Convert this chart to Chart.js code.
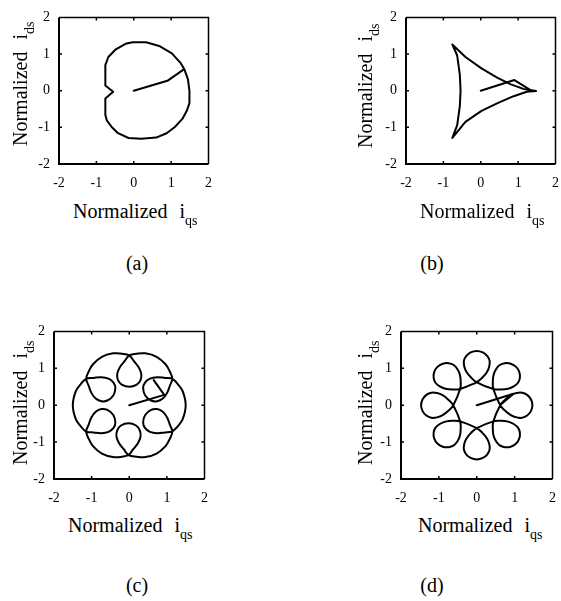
<!DOCTYPE html>
<html>
<head>
<meta charset="utf-8">
<script src="https://cdn.jsdelivr.net/npm/chart.js@4/dist/chart.umd.min.js"></script>
<style>
  html, body { margin: 0; padding: 0; background: #fff; }
  body { width: 561px; height: 601px; position: relative; overflow: hidden;
         font-family: "Liberation Serif", "Times New Roman", Times, "DejaVu Serif", serif; color: #000; }
  .box { position: absolute; }
  .box canvas { display: block; }
  .t { position: absolute; font-size: 20px; line-height: 20px; white-space: nowrap; }
  .v { transform-origin: 0 0; transform: rotate(-90deg); }
  .sub { font-size: 14px; position: relative; top: 7px; }
  .ii { margin-left: 12px; }
  .cap { width: 60px; text-align: center; }
</style>
</head>
<body>

<div class="box" id="boxA"><canvas id="chartA"></canvas></div>
<div class="box" id="boxB"><canvas id="chartB"></canvas></div>
<div class="box" id="boxC"><canvas id="chartC"></canvas></div>
<div class="box" id="boxD"><canvas id="chartD"></canvas></div>

<!-- axis titles -->
<div class="t v" style="left:10px; top:146px;">Normalized<span class="ii">i</span><span class="sub">ds</span></div>
<div class="t v" style="left:355px; top:148px;">Normalized<span class="ii">i</span><span class="sub">ds</span></div>
<div class="t v" style="left:10px; top:465px;">Normalized<span class="ii">i</span><span class="sub">ds</span></div>
<div class="t v" style="left:355px; top:465px;">Normalized<span class="ii">i</span><span class="sub">ds</span></div>

<div class="t" style="left:73px; top:201px;">Normalized<span class="ii">i</span><span class="sub">qs</span></div>
<div class="t" style="left:420px; top:201px;">Normalized<span class="ii">i</span><span class="sub">qs</span></div>
<div class="t" style="left:68px; top:515px;">Normalized<span class="ii">i</span><span class="sub">qs</span></div>
<div class="t" style="left:418px; top:515px;">Normalized<span class="ii">i</span><span class="sub">qs</span></div>

<!-- panel captions -->
<div class="t cap" style="left:107px; top:253px;">(a)</div>
<div class="t cap" style="left:402px; top:253px;">(b)</div>
<div class="t cap" style="left:107px; top:575px;">(c)</div>
<div class="t cap" style="left:402px; top:575px;">(d)</div>

<script>
// Axis ticks shared by all four panels
const tickValues = [-2, -1, 0, 1, 2];
const tickLabels = ['-2', '-1', '0', '1', '2'];
const innerTicks = [-1, 0, 1];

// (a) current locus and start-up transient (iqs, ids)
const traceA = [
  [-0.76, 0.14], [-0.76, 0.45], [-0.76, 0.70], [-0.68, 0.92], [-0.48, 1.13],
  [-0.22, 1.28], [-0.03, 1.32], [0.33, 1.32], [0.68, 1.22], [1.02, 1.02],
  [1.25, 0.76], [1.36, 0.57], [1.45, 0.31], [1.49, 0.00], [1.49, -0.34],
  [1.42, -0.55], [1.30, -0.77], [1.10, -0.99], [0.88, -1.16], [0.60, -1.28],
  [0.20, -1.31], [-0.14, -1.29], [-0.42, -1.16], [-0.59, -0.99], [-0.72, -0.81],
  [-0.76, -0.66], [-0.76, -0.21], [-0.55, -0.03], [-0.76, 0.14]
];
const spokeA = [[0, 0], [0.90, 0.27], [1.34, 0.58]];

// (b) three-cusped locus
const traceB = [
  [1.36, 0.01], [1.14, 0.05], [0.79, 0.18], [0.45, 0.35], [0.02, 0.61],
  [-0.41, 0.92], [-0.76, 1.26], [-0.63, 0.96], [-0.56, 0.44], [-0.54, 0.01],
  [-0.56, -0.42], [-0.63, -0.94], [-0.76, -1.29], [-0.41, -0.85], [0.02, -0.55],
  [0.45, -0.34], [0.88, -0.15], [1.23, -0.03], [1.48, -0.01], [1.36, 0.01]
];
const spokeB = [[0, 0], [0.90, 0.29], [1.31, 0.03]];

// (c) six inner loops
const traceC = [
  [1.145, -0.715], [1.288, -0.573], [1.420, -0.380], [1.500, 0.000], [1.420, 0.380], [1.288, 0.573], [1.145, 0.715],
  [0.954, 0.738], [0.741, 0.758], [0.551, 0.722], [0.418, 0.614], [0.369, 0.467], [0.424, 0.265],
  [0.581, 0.127], [0.736, 0.106], [0.891, 0.179], [1.006, 0.334], [1.081, 0.534], [1.145, 0.715],
  [1.080, 0.906], [0.964, 1.109], [0.727, 1.312], [0.430, 1.406], [0.196, 1.396], [0.000, 1.350],
  [-0.12, 1.20], [-0.25, 1.03], [-0.32, 0.85], [-0.30, 0.68], [-0.20, 0.56], [0.00, 0.50],
  [0.20, 0.56], [0.30, 0.68], [0.32, 0.85], [0.25, 1.03], [0.12, 1.20], [0.00, 1.35],
  [-0.196, 1.396], [-0.430, 1.406], [-0.727, 1.312], [-0.964, 1.109], [-1.080, 0.906], [-1.145, 0.715],
  [-1.081, 0.534], [-1.006, 0.334], [-0.891, 0.179], [-0.736, 0.106], [-0.581, 0.127], [-0.424, 0.265],
  [-0.369, 0.467], [-0.418, 0.614], [-0.551, 0.722], [-0.741, 0.758], [-0.954, 0.738], [-1.145, 0.715],
  [-1.288, 0.573], [-1.420, 0.380], [-1.500, 0.000], [-1.420, -0.380], [-1.288, -0.573], [-1.145, -0.715],
  [-0.954, -0.738], [-0.741, -0.758], [-0.551, -0.722], [-0.418, -0.614], [-0.369, -0.467], [-0.424, -0.265],
  [-0.581, -0.127], [-0.736, -0.106], [-0.891, -0.179], [-1.006, -0.334], [-1.081, -0.534], [-1.145, -0.715],
  [-1.080, -0.906], [-0.964, -1.109], [-0.727, -1.312], [-0.430, -1.406], [-0.196, -1.396], [-0.020, -1.350],
  [0.10, -1.20], [0.23, -1.03], [0.30, -0.85], [0.28, -0.68], [0.18, -0.55], [-0.02, -0.49],
  [-0.22, -0.55], [-0.32, -0.68], [-0.34, -0.85], [-0.27, -1.03], [-0.14, -1.20], [-0.020, -1.35],
  [0.196, -1.396], [0.430, -1.406], [0.727, -1.312], [0.964, -1.109], [1.080, -0.906], [1.145, -0.715],
  [1.081, -0.534], [1.006, -0.334], [0.891, -0.179], [0.736, -0.106], [0.581, -0.127], [0.424, -0.265],
  [0.369, -0.467], [0.418, -0.614], [0.551, -0.722], [0.741, -0.758], [0.954, -0.738], [1.145, -0.715]
];
const spokeC = [[0, 0], [0.93, 0.28], [0.65, 0.68]];

// (d) eight outer petals
const traceD = [
  [0.00, 0.62], [0.15, 0.75], [0.27, 0.90], [0.33, 1.05], [0.34, 1.20], [0.28, 1.33], [0.16, 1.43], [0.00, 1.47],
  [-0.16, 1.43], [-0.28, 1.33], [-0.34, 1.20], [-0.33, 1.05], [-0.27, 0.90], [-0.15, 0.75], [0.00, 0.62],
  [0.438, 0.438], [0.636, 0.424], [0.827, 0.445], [0.976, 0.509], [1.089, 0.608], [1.138, 0.742], [1.124, 0.898], [1.039, 1.039],
  [0.898, 1.124], [0.742, 1.138], [0.608, 1.089], [0.509, 0.976], [0.445, 0.827], [0.424, 0.636], [0.438, 0.438],
  [0.62, 0.00], [0.75, -0.15], [0.90, -0.27], [1.05, -0.33], [1.20, -0.34], [1.33, -0.28], [1.43, -0.16], [1.47, 0.00],
  [1.43, 0.16], [1.33, 0.28], [1.20, 0.34], [1.05, 0.33], [0.90, 0.27], [0.75, 0.15], [0.62, 0.00],
  [0.438, -0.438], [0.424, -0.636], [0.445, -0.827], [0.509, -0.976], [0.608, -1.089], [0.742, -1.138], [0.898, -1.124], [1.039, -1.039],
  [1.124, -0.898], [1.138, -0.742], [1.089, -0.608], [0.976, -0.509], [0.827, -0.445], [0.636, -0.424], [0.438, -0.438],
  [0.00, -0.62], [-0.15, -0.75], [-0.27, -0.90], [-0.33, -1.05], [-0.34, -1.20], [-0.28, -1.33], [-0.16, -1.43], [0.00, -1.47],
  [0.16, -1.43], [0.28, -1.33], [0.34, -1.20], [0.33, -1.05], [0.27, -0.90], [0.15, -0.75], [0.00, -0.62],
  [-0.438, -0.438], [-0.636, -0.424], [-0.827, -0.445], [-0.976, -0.509], [-1.089, -0.608], [-1.138, -0.742], [-1.124, -0.898], [-1.039, -1.039],
  [-0.898, -1.124], [-0.742, -1.138], [-0.608, -1.089], [-0.509, -0.976], [-0.445, -0.827], [-0.424, -0.636], [-0.438, -0.438],
  [-0.62, 0.00], [-0.75, 0.15], [-0.90, 0.27], [-1.05, 0.33], [-1.20, 0.34], [-1.33, 0.28], [-1.43, 0.16], [-1.47, 0.00],
  [-1.43, -0.16], [-1.33, -0.28], [-1.20, -0.34], [-1.05, -0.33], [-0.90, -0.27], [-0.75, -0.15], [-0.62, 0.00],
  [-0.438, 0.438], [-0.424, 0.636], [-0.445, 0.827], [-0.509, 0.976], [-0.608, 1.089], [-0.742, 1.138], [-0.898, 1.124], [-1.039, 1.039],
  [-1.124, 0.898], [-1.138, 0.742], [-1.089, 0.608], [-0.976, 0.509], [-0.827, 0.445], [-0.636, 0.424], [-0.438, 0.438],
  [0.00, 0.62]
];
const spokeD = [[0, 0], [0.97, 0.31], [0.66, 0.04]];

const FONT = '"Liberation Serif", "Times New Roman", Times, "DejaVu Serif", serif';
const Y_AXIS_W = 45, X_AXIS_H = 30, PAD_T = 10, PAD_R = 10;

// Frame around the plotting area with small inward ticks on every side
const framePlugin = {
  id: 'frame',
  afterDraw(chart) {
    const { ctx, chartArea: a, scales } = chart;
    ctx.save();
    ctx.strokeStyle = '#000';
    ctx.lineCap = 'butt';
    ctx.lineWidth = 2;
    ctx.beginPath();
    ctx.moveTo(a.left, a.top); ctx.lineTo(a.left, a.bottom); ctx.lineTo(a.right, a.bottom);
    ctx.stroke();
    ctx.lineWidth = 1.5;
    ctx.beginPath();
    ctx.moveTo(a.left, a.top); ctx.lineTo(a.right, a.top); ctx.lineTo(a.right, a.bottom);
    ctx.stroke();
    ctx.lineWidth = 1.5;
    ctx.beginPath();
    innerTicks.forEach(v => {
      const px = scales.x.getPixelForValue(v);
      ctx.moveTo(px, a.bottom); ctx.lineTo(px, a.bottom - 3);
      ctx.moveTo(px, a.top); ctx.lineTo(px, a.top + 3);
      const py = scales.y.getPixelForValue(v);
      ctx.moveTo(a.left, py); ctx.lineTo(a.left + 3, py);
      ctx.moveTo(a.right, py); ctx.lineTo(a.right - 3, py);
    });
    ctx.stroke();
    ctx.restore();
  }
};

function toPts(arr) { return arr.map(p => ({ x: p[0], y: p[1] })); }

function lineSet(arr, tension) {
  return {
    data: toPts(arr), showLine: true, borderColor: '#000', borderWidth: 2,
    pointRadius: 0, pointHoverRadius: 0, tension: tension, fill: false,
    borderJoinStyle: 'round', borderCapStyle: 'round'
  };
}

function makeChart(boxId, canvasId, area, sets) {
  const w = area.right - area.left + Y_AXIS_W + PAD_R;
  const h = area.bottom - area.top + PAD_T + X_AXIS_H;
  const box = document.getElementById(boxId);
  box.style.left = (area.left - Y_AXIS_W) + 'px';
  box.style.top = (area.top - PAD_T) + 'px';
  const cv = document.getElementById(canvasId);
  cv.width = w; cv.height = h;
  cv.style.width = w + 'px'; cv.style.height = h + 'px';
  const axis = (isX) => ({
    type: 'linear', min: -2, max: 2,
    afterBuildTicks: s => { s.ticks = tickValues.map(v => ({ value: v })); },
    afterFit: s => { if (isX) s.height = X_AXIS_H; else s.width = Y_AXIS_W; },
    grid: { display: false, drawTicks: false },
    border: { display: false },
    ticks: {
      color: '#000', font: { family: FONT, size: 14 },
      padding: isX ? 11 : 9, maxRotation: 0, autoSkip: false,
      callback: (v) => tickLabels[tickValues.indexOf(v)]
    }
  });
  return new Chart(cv, {
    type: 'scatter',
    data: { datasets: sets },
    options: {
      responsive: false, animation: false, events: [],
      layout: { padding: { top: PAD_T, right: PAD_R, left: 0, bottom: 0 } },
      plugins: { legend: { display: false }, tooltip: { enabled: false } },
      scales: { x: axis(true), y: axis(false) }
    },
    plugins: [framePlugin]
  });
}

makeChart('boxA', 'chartA', { left: 59, top: 10, right: 213, bottom: 164 },
  [lineSet(traceA, 0), lineSet(spokeA, 0)]);
makeChart('boxB', 'chartB', { left: 406, top: 10, right: 560, bottom: 164 },
  [lineSet(traceB, 0), lineSet(spokeB, 0)]);
makeChart('boxC', 'chartC', { left: 54, top: 324, right: 209, bottom: 479 },
  [lineSet(traceC, 0.4), lineSet(spokeC, 0)]);
makeChart('boxD', 'chartD', { left: 401, top: 324, right: 557, bottom: 479 },
  [lineSet(traceD, 0.4), lineSet(spokeD, 0)]);
</script>
</body>
</html>
